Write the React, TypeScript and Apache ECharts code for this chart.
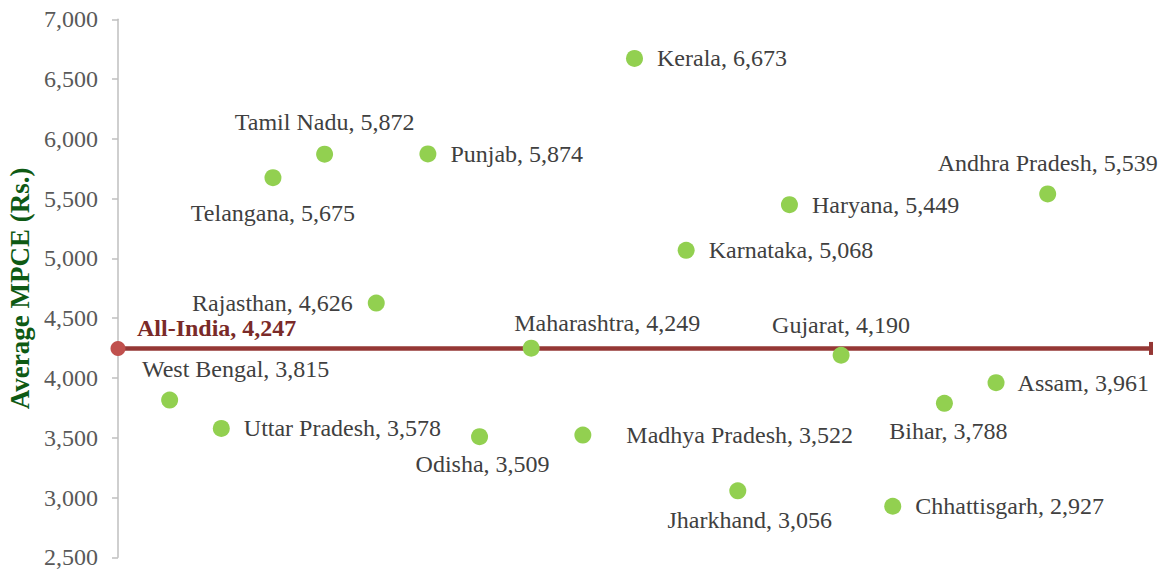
import React, { useEffect, useRef } from "react";
import * as echarts from "echarts";

const states = [
  "West Bengal", "Uttar Pradesh", "Telangana", "Tamil Nadu", "Rajasthan", "Punjab",
  "Odisha", "Maharashtra", "Madhya Pradesh", "Kerala", "Karnataka", "Jharkhand",
  "Haryana", "Gujarat", "Chhattisgarh", "Bihar", "Assam", "Andhra Pradesh",
];
const mpce = [
  3815, 3578, 5675, 5872, 4626, 5874,
  3509, 4249, 3522, 6673, 5068, 3056,
  5449, 4190, 2927, 3788, 3961, 5539,
];
const allIndiaName = "All-India";
const allIndiaValue = 4247;
const yTicks = { min: 2500, max: 7000, interval: 500 };

// label placement (styling only)
const labelPlacement: Record<string, any> = {
  "West Bengal": { position: "inside", offset: [66, -31] },
  "Uttar Pradesh": { position: "right", distance: 14 },
  "Telangana": { position: "inside", offset: [0, 35] },
  "Tamil Nadu": { position: "inside", offset: [0, -32] },
  "Rajasthan": { position: "left", distance: 15 },
  "Punjab": { position: "right", distance: 14 },
  "Odisha": { position: "inside", offset: [3, 27] },
  "Maharashtra": { position: "inside", offset: [76, -25] },
  "Madhya Pradesh": { position: "right", distance: 35 },
  "Kerala": { position: "right", distance: 14 },
  "Karnataka": { position: "right", distance: 14 },
  "Jharkhand": { position: "inside", offset: [12, 29] },
  "Haryana": { position: "right", distance: 14 },
  "Gujarat": { position: "inside", offset: [0, -30] },
  "Chhattisgarh": { position: "right", distance: 14 },
  "Bihar": { position: "inside", offset: [4, 28] },
  "Assam": { position: "right", distance: 13 },
  "Andhra Pradesh": { position: "inside", offset: [0, -31] },
};

const FONT = "'Liberation Serif', 'Times New Roman', serif";
const fmt = (v: number) => v.toLocaleString("en-US");

export default function App() {
  const ref = useRef<HTMLDivElement>(null);
  useEffect(() => {
    document.body.style.margin = "0";
    if (!ref.current) return;
    const chart = echarts.init(ref.current, null, { renderer: "svg" });
    const scatterData = states.map((s, i) => {
      const p = labelPlacement[s] || { position: "right", distance: 14 };
      return {
        name: s,
        value: [i + 1, mpce[i]],
        label: {
          show: true,
          position: p.position,
          distance: p.distance ?? 5,
          offset: p.offset ?? [0, 0],
          align: p.position === "inside" ? "center" : undefined,
          verticalAlign: "middle",
        },
      };
    });
    chart.setOption({
      animation: false,
      grid: {
        left: 118, right: 13, top: 19.3, bottom: 13.7,
        containLabel: false,
        outerBoundsMode: "none",
      },
      xAxis: {
        type: "value",
        min: 0,
        max: states.length + 2,
        show: false,
      },
      yAxis: {
        type: "value",
        min: yTicks.min,
        max: yTicks.max,
        interval: yTicks.interval,
        name: "Average MPCE (Rs.)",
        nameLocation: "middle",
        nameRotate: 90,
        nameGap: 85,
        nameTextStyle: {
          fontFamily: FONT,
          fontSize: 27,
          fontWeight: "bold",
          color: "#0e5a14",
        },
        axisLine: { show: true, lineStyle: { color: "#bfbfbf", width: 1.5 } },
        axisTick: { show: true, length: 6, lineStyle: { color: "#bfbfbf", width: 1.5 } },
        splitLine: { show: false },
        axisLabel: {
          formatter: (v: number) => fmt(v),
          fontFamily: FONT,
          fontSize: 24,
          color: "#595959",
          margin: 20,
        },
      },
      series: [
        {
          type: "line",
          clip: false,
          z: 2,
          lineStyle: { color: "#953735", width: 4.5 },
          itemStyle: { color: "#953735", opacity: 1 },
          data: [
            {
              name: allIndiaName,
              value: [0, allIndiaValue],
              symbol: "circle",
              symbolSize: 15,
              itemStyle: { color: "#c0504d", opacity: 1 },
              label: {
                show: true,
                position: "inside",
                align: "left",
                verticalAlign: "middle",
                offset: [19, -20],
                formatter: (p: any) => `${p.name}, ${fmt(p.value[1])}`,
                fontFamily: FONT,
                fontSize: 24,
                fontWeight: "bold",
                color: "#7a2a28",
              },
            },
            {
              name: "",
              value: [states.length + 2, allIndiaValue],
              symbol: "rect",
              symbolSize: [4, 13],
              itemStyle: { color: "#953735", opacity: 1 },
              label: { show: false },
            },
          ],
        },
        {
          type: "scatter",
          z: 3,
          symbol: "circle",
          symbolSize: 17,
          itemStyle: { color: "#92d050", opacity: 1 },
          label: {
            show: true,
            fontFamily: FONT,
            fontSize: 24,
            color: "#404040",
            formatter: (p: any) => `${p.name}, ${fmt(p.value[1])}`,
          },
          data: scatterData,
        },
      ],
    });
    return () => chart.dispose();
  }, []);
  return <div ref={ref} style={{ width: 1164, height: 571 }} />;
}
